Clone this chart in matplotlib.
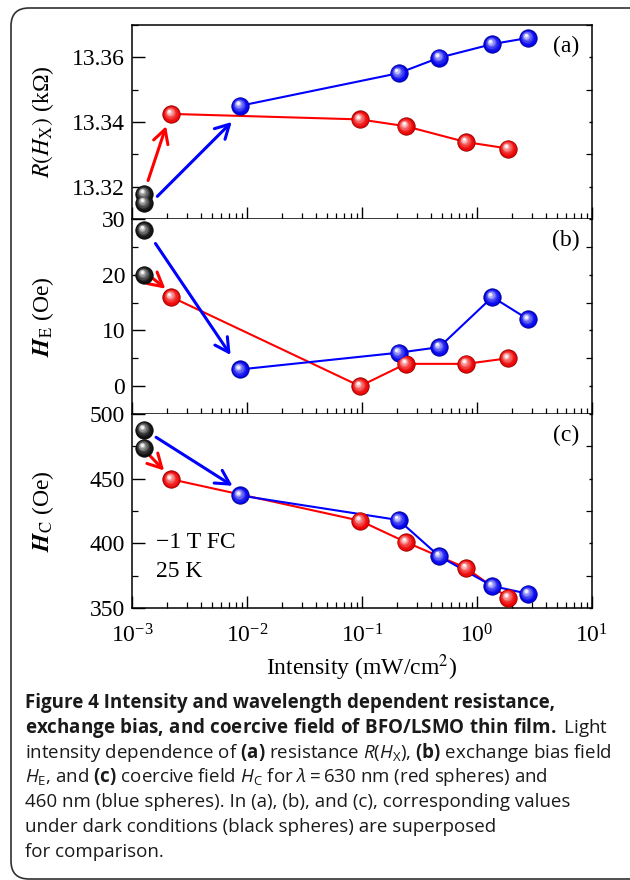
import numpy as np
import matplotlib
matplotlib.use("Agg")
import matplotlib.pyplot as plt
import matplotlib.transforms as mtransforms
from matplotlib.patches import FancyBboxPatch
from matplotlib.ticker import MultipleLocator, FormatStrFormatter, LogLocator, NullFormatter

# ---------------- data ----------------
x_dark = [1.27e-3, 1.27e-3]
x_red = [2.2e-3, 0.096, 0.24, 0.80, 1.86]
x_blue = [8.7e-3, 0.208, 0.47, 1.36, 2.78]

R_dark = [13.3178, 13.3150]
R_red = [13.3425, 13.3408, 13.3387, 13.3338, 13.3318]
R_blue = [13.3450, 13.3551, 13.3599, 13.3641, 13.3660]

HE_dark = [28, 20]
HE_red = [16, 0, 4, 4, 5]
HE_blue = [3, 6, 7, 16, 12]

HC_dark = [488, 474]
HC_red = [449.5, 417.5, 401, 381, 358]
HC_blue = [437, 418, 390, 367, 361]

# arrows: (x0, y0, x1, y1)
arrows_a = {"red": (1.38e-3, 13.3219, 1.98e-3, 13.3387),
            "blue": (1.66e-3, 13.3170, 7.36e-3, 13.3400)}
arrows_b = {"red": (1.53e-3, 19.3, 1.95e-3, 17.5),
            "blue": (1.60e-3, 25.6, 7.2e-3, 5.6)}
arrows_c = {"red": (1.44e-3, 467.5, 1.9e-3, 456.3),
            "blue": (1.62e-3, 482.0, 7.48e-3, 444.5)}

panel_labels = ["(a)", "(b)", "(c)"]
ylabels = [r"$R(H_{\mathrm{X}})$ (k" + "\u03A9)",
           r"$\mathbfit{H}_{\mathrm{E}}$ (Oe)",
           r"$\mathbfit{H}_{\mathrm{C}}$ (Oe)"]
xlabel = r"Intensity (mW/cm$^{2}$)"

caption_lines = [
    r"Figure 4 Intensity and wavelength dependent resistance,",
    r"$\mathbf{exchange\ bias{,}\ and\ coercive\ field\ of\ BFO/LSMO\ thin\ film.}$ Light",
    r"intensity dependence of $\mathbf{(a)}$ resistance $R(H_{\mathrm{X}})$, $\mathbf{(b)}$ exchange bias field",
    r"$H_{\mathrm{E}}$, and $\mathbf{(c)}$ coercive field $H_{\mathrm{C}}$ for $\lambda = 630$ nm (red spheres) and",
    r"460 nm (blue spheres). In (a), (b), and (c), corresponding values",
    r"under dark conditions (black spheres) are superposed",
    r"for comparison.",
]
caption_bold = [True, False, False, False, False, False, False]

# ---------------- style ----------------
plt.rcParams["font.family"] = ["Liberation Serif", "DejaVu Serif"]
plt.rcParams["mathtext.fontset"] = "stix"
plt.rcParams["mathtext.rm"] = "Open Sans"
plt.rcParams["mathtext.it"] = "Open Sans:italic"
plt.rcParams["mathtext.bf"] = "Open Sans:bold"
plt.rcParams["axes.linewidth"] = 1.1

FS = 17
W, H = 630, 880
fig = plt.figure(figsize=(W / 100, H / 100), dpi=100)

def frac_box(top_px, bot_px):
    left = 132 / W
    width = 460 / W
    return [left, (H - bot_px) / H, width, (bot_px - top_px) / H]

axa = fig.add_axes(frac_box(25, 219))
axb = fig.add_axes(frac_box(219, 414), sharex=axa)
axc = fig.add_axes(frac_box(414, 608), sharex=axa)
axes = [axa, axb, axc]

RED = np.array([0.93, 0.0, 0.0])
BLUE = np.array([0.0, 0.0, 0.93])
BLACK = np.array([0.06, 0.06, 0.06])


def spheres(ax, x, y, base, ms=12.5, z=5):
    base = np.asarray(base)
    edge = base * 0.6
    ax.plot(x, y, "o", ms=ms, mfc=tuple(base), mec=tuple(edge), mew=0.6,
            zorder=z, clip_on=False)
    n = 7
    for i in range(1, n + 1):
        f = i / n
        size = ms * (1 - 0.82 * f)
        off = f * ms * 0.16
        c = base + (1 - base) * (f ** 1.6) * 0.95
        tr = mtransforms.offset_copy(ax.transData, fig=fig, x=-off * 0.8, y=off,
                                     units="points")
        ax.plot(x, y, "o", ms=size, mfc=tuple(np.clip(c, 0, 1)), mec="none",
                transform=tr, zorder=z + 0.01 * i, clip_on=False)


def arrow(ax, coords, color):
    x0, y0, x1, y1 = coords
    ax.annotate("", xy=(x1, y1), xytext=(x0, y0),
                arrowprops=dict(arrowstyle="->,head_length=0.55,head_width=0.3",
                                color=color, lw=2.2, mutation_scale=18,
                                shrinkA=0, shrinkB=0), zorder=4)


data = [
    (R_dark, R_red, R_blue, arrows_a),
    (HE_dark, HE_red, HE_blue, arrows_b),
    (HC_dark, HC_red, HC_blue, arrows_c),
]

for ax, (yd, yr, yb, arr) in zip(axes, data):
    ax.plot(x_red, yr, "-", color="red", lw=1.5, zorder=3)
    ax.plot(x_blue, yb, "-", color="blue", lw=1.5, zorder=3)
    arrow(ax, arr["red"], "red")
    arrow(ax, arr["blue"], "blue")
    spheres(ax, x_dark, yd, BLACK)
    spheres(ax, x_red, yr, RED)
    spheres(ax, x_blue, yb, BLUE)

for ax, lab, yl in zip(axes, panel_labels, ylabels):
    ax.set_xscale("log")
    ax.set_xlim(1e-3, 1e1)
    ax.text(0.943, 0.888, lab, transform=ax.transAxes, ha="center", va="center",
            fontsize=FS)
    ax.set_ylabel(yl, fontsize=FS)
    ax.yaxis.set_label_coords(-0.165, 0.5)
    ax.tick_params(axis="both", which="both", direction="in", top=False,
                   right=True, labelsize=FS, pad=5)
    ax.tick_params(axis="x", which="both", pad=12)
    ax.tick_params(axis="both", which="major", length=9, width=1.0)
    ax.tick_params(axis="both", which="minor", length=4.5, width=0.9)
    ax.xaxis.set_major_locator(LogLocator(base=10, numticks=10))
    ax.xaxis.set_minor_locator(LogLocator(base=10, subs=np.arange(2, 10), numticks=10))
    ax.xaxis.set_minor_formatter(NullFormatter())

for ax in axes:
    for t in ax.yaxis.get_major_ticks() + ax.yaxis.get_minor_ticks():
        t.tick2line.set_markersize(2.5)

axa.set_ylim(13.310, 13.370)
axa.yaxis.set_major_locator(MultipleLocator(0.02))
axa.yaxis.set_minor_locator(MultipleLocator(0.01))
axa.yaxis.set_major_formatter(FormatStrFormatter("%.2f"))

axb.set_ylim(-5, 30)
axb.yaxis.set_major_locator(MultipleLocator(10))
axb.yaxis.set_minor_locator(MultipleLocator(5))

axc.set_ylim(350, 500)
axc.yaxis.set_major_locator(MultipleLocator(50))
axc.yaxis.set_minor_locator(MultipleLocator(25))

for ax in (axa, axb):
    ax.tick_params(axis="x", labelbottom=False)
for ax in (axb, axc):
    ax.spines["top"].set_visible(False)

axc.set_xlabel(xlabel, fontsize=FS, labelpad=3)
axc.text(1.62e-3, 400.5, "\u22121 T FC", fontsize=FS, ha="left", va="center")
axc.text(1.62e-3, 378, "25 K", fontsize=FS, ha="left", va="center")

# ---------------- frame ----------------
frame = FancyBboxPatch((11, H - 879), 640, 871, boxstyle="round,pad=0,rounding_size=18",
                       transform=mtransforms.IdentityTransform(), fill=False,
                       edgecolor="#303030", lw=1.2)
fig.add_artist(frame)

# ---------------- caption ----------------
cap_fs = 13.5
for i, (line, bold) in enumerate(zip(caption_lines, caption_bold)):
    ybase = 708 + 24.8 * i
    fig.text(25 / W, (H - ybase) / H, line, fontsize=cap_fs, family="Open Sans",
             fontweight="bold" if bold else "normal", ha="left", va="baseline",
             color="#1a1a1a", math_fontfamily="custom")

fig.savefig("out.png", dpi=100)
